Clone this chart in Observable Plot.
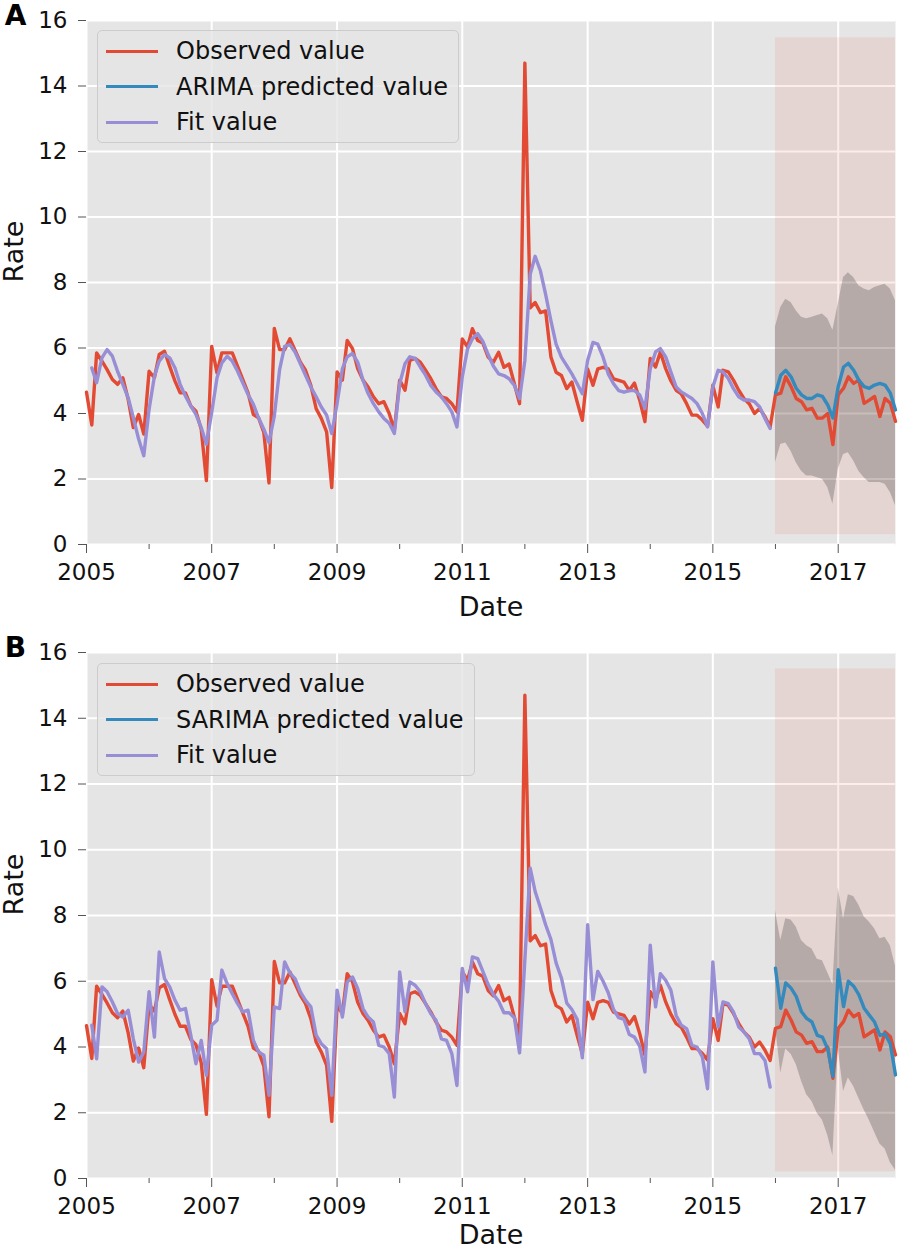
<!DOCTYPE html>
<html><head><meta charset="utf-8">
<script src="https://cdn.jsdelivr.net/npm/d3@7"></script>
<script src="https://cdn.jsdelivr.net/npm/@observablehq/plot@0.6"></script>
<style>
body{margin:0;background:#fff;font-family:"DejaVu Sans",sans-serif;}
.panel{position:relative;width:912px;}
.legend{position:absolute;left:97px;top:30px;height:113px;background:rgba(229,229,229,0.8);border:1px solid #cccccc;border-radius:5px;box-sizing:border-box;}
.row{position:absolute;left:0;height:36px;width:100%;}
.row .ln{position:absolute;left:8px;width:52px;height:3px;top:-1.5px;}
.row .tx{position:absolute;left:78px;top:-15px;font-size:24px;line-height:30px;color:#111;white-space:nowrap;}
</style>
</head><body>
<div id="chart"></div>
<script>
// Monthly series, index 0 = 2005-01 ... 155 = 2017-12
const startYear = 2005;
const observed = [4.65,3.65,5.85,5.6,5.34,5.04,4.89,5.09,4.43,3.57,3.97,3.37,
5.29,5.09,5.8,5.9,5.44,4.99,4.63,4.63,4.23,4.07,3.52,1.95,
6.05,5.24,5.85,5.85,5.85,5.44,5.04,4.63,3.97,3.87,3.42,1.88,
6.6,5.95,5.95,6.28,5.93,5.57,5.32,4.86,4.15,3.85,3.44,1.74,
5.27,5.02,6.23,5.98,5.37,5.02,4.81,4.51,4.3,4.36,4.0,3.49,
5.02,4.71,5.62,5.68,5.57,5.32,5.07,4.76,4.51,4.46,4.3,4.05,
6.28,6.03,6.59,6.23,6.15,5.72,5.56,5.87,5.41,5.51,4.9,4.3,
14.7,7.23,7.39,7.08,7.13,5.72,5.26,5.16,4.76,4.96,4.35,3.79,
5.36,4.86,5.36,5.41,5.36,5.06,5.01,4.96,4.7,4.93,4.4,3.75,
5.68,5.42,5.88,5.37,5.0,4.71,4.6,4.3,3.95,3.95,3.8,3.61,
4.86,4.2,5.32,5.27,5.02,4.71,4.46,4.3,4.0,4.15,3.9,3.59,
4.57,4.62,5.12,4.82,4.46,4.36,4.11,4.16,3.86,3.86,4.0,3.05,
4.57,4.77,5.12,4.92,5.02,4.31,4.41,4.52,3.91,4.46,4.31,3.76];

// fitted values start at index 1 (2005-02) and end at index 131 (2015-12)
const fitStart = 1;
const arimaFit = [5.39,4.94,5.7,5.95,5.75,5.29,4.89,4.48,3.87,3.22,2.71,
4.13,5.14,5.6,5.8,5.7,5.39,4.89,4.53,4.23,3.97,3.57,3.06,
4.03,5.09,5.54,5.75,5.6,5.29,4.94,4.58,4.28,3.87,3.52,3.11,
3.92,5.34,6.05,6.1,5.88,5.52,5.17,4.81,4.51,4.2,3.95,3.39,
4.3,5.37,5.73,5.83,5.57,5.02,4.61,4.3,4.05,3.85,3.7,3.39,
4.91,5.52,5.73,5.68,5.42,5.17,4.86,4.66,4.51,4.3,4.05,3.59,
5.12,5.98,6.28,6.44,6.2,5.8,5.45,5.21,5.16,5.06,4.86,4.45,
5.62,8.25,8.8,8.35,7.64,6.83,6.12,5.72,5.46,5.21,4.91,4.6,
5.62,6.17,6.12,5.72,5.21,4.91,4.7,4.65,4.7,4.7,4.56,4.15,
5.37,5.88,5.98,5.73,5.27,4.81,4.66,4.56,4.46,4.3,4.0,3.59,
4.81,5.32,5.27,5.07,4.76,4.51,4.41,4.41,4.36,4.2,3.85,3.54];

const sarimaFit = [4.66,3.64,5.83,5.68,5.37,5.02,4.91,5.12,4.25,3.54,3.85,
5.68,4.3,6.89,6.08,5.83,5.42,5.12,5.17,4.36,3.49,4.2,3.14,
4.66,4.81,6.34,5.93,5.62,5.32,5.07,5.12,4.2,3.85,3.75,2.53,
5.22,5.17,6.59,6.25,6.08,5.68,5.42,5.22,4.36,4.1,3.95,2.53,
5.73,4.91,5.98,6.13,5.78,5.17,4.91,4.76,4.05,4.0,3.8,2.48,
6.28,5.07,5.98,5.88,5.68,5.32,5.02,4.81,4.25,4.2,3.8,2.83,
6.39,5.68,6.74,6.69,6.3,5.9,5.6,5.39,5.04,5.04,4.89,3.82,
6.66,9.44,8.73,8.23,7.72,7.27,6.56,6.1,5.34,5.14,4.84,3.67,
7.72,5.44,6.3,6.0,5.65,5.14,4.89,4.84,4.38,4.3,4.02,3.24,
7.1,5.22,6.23,6.03,5.73,4.96,4.66,4.56,4.05,4.0,3.7,2.73,
6.59,4.61,5.37,5.32,5.07,4.61,4.46,4.25,3.8,3.8,3.59,2.78];

// forecasts start at index 132 (2016-01)
const predStart = 132;
const arimaPred = [4.62,5.17,5.32,5.12,4.77,4.57,4.46,4.46,4.57,4.52,4.26,3.86,
4.82,5.42,5.53,5.32,5.02,4.82,4.77,4.87,4.92,4.87,4.62,4.11];
const arimaUpper = [6.64,7.24,7.49,7.39,7.14,6.94,6.89,6.94,6.99,7.04,6.89,6.54,
7.34,8.15,8.3,8.15,7.9,7.8,7.75,7.85,7.9,7.95,7.8,7.44];
const arimaLower = [2.5,3.05,3.1,2.85,2.5,2.24,2.09,2.09,2.04,1.99,1.74,1.23,
2.29,2.75,2.8,2.55,2.24,2.04,1.89,1.89,1.89,1.84,1.59,1.18];

const sarimaPred = [6.4,5.18,5.95,5.79,5.54,5.07,4.87,4.76,4.35,4.3,3.94,3.11,
6.35,5.23,6.0,5.85,5.59,5.18,4.97,4.76,4.35,4.4,4.09,3.15];
const sarimaUpper = [8.15,7.24,7.9,7.86,7.65,7.24,7.08,6.98,6.67,6.62,6.26,5.9,
8.85,7.9,8.63,8.58,8.32,7.96,7.8,7.6,7.29,7.34,7.08,6.46];
const sarimaLower = [4.65,3.2,3.94,3.78,3.47,2.96,2.55,2.34,1.98,1.77,1.31,0.69,
3.95,2.65,3.06,2.8,2.44,2.08,1.77,1.41,1.05,0.9,0.48,0.25];

// forecast highlight span (y extent)
const spanA = {lo: 0.3, hi: 15.47};
const spanB = {lo: 0.2, hi: 15.5};

const yTicks = [0,2,4,6,8,10,12,14,16];
const yearTicks = d3.range(2005, 2018);

const colors = {obs: "#E24A33", pred: "#348ABD", fit: "#988ED5"};

const toDate = i => new Date(Date.UTC(startYear, i, 1));
const series = (arr, off) => arr.map((v, i) => ({date: toDate(off + i), v}));
const oddYears = yearTicks.filter(y => y % 2 === 1).map(y => new Date(Date.UTC(y, 0, 1)));
const evenYears = yearTicks.filter(y => y % 2 === 0).map(y => new Date(Date.UTC(y, 0, 1)));

function panel({letter, fit, pred, upper, lower, span, predLabel, height, marginTop, marginBottom, dateDy}) {
  const band = upper.map((u, i) => ({date: toDate(predStart + i), hi: u, lo: lower[i]}));
  const spanRect = [{x1: toDate(predStart), x2: toDate(observed.length - 1), y1: span.lo, y2: span.hi}];
  const svg = Plot.plot({
    width: 912, height, marginTop, marginBottom, marginLeft: 86, marginRight: 17,
    x: {type: "utc", domain: [toDate(0), toDate(observed.length - 1)]},
    y: {domain: [0, 16]},
    style: {fontFamily: "'DejaVu Sans', sans-serif", fontSize: "23px", color: "#111", background: "transparent", overflow: "visible"},
    marks: [
      Plot.frame({fill: "#E5E5E5", stroke: null}),
      Plot.gridY(yTicks, {stroke: "white", strokeOpacity: 1, strokeWidth: 2}),
      Plot.gridX(oddYears, {stroke: "white", strokeOpacity: 1, strokeWidth: 2}),
      Plot.rect(spanRect, {x1: "x1", x2: "x2", y1: "y1", y2: "y2", fill: colors.obs, fillOpacity: 0.1}),
      Plot.areaY(band, {x: "date", y1: "lo", y2: "hi", fill: "black", fillOpacity: 0.2}),
      Plot.lineY(series(observed, 0), {x: "date", y: "v", stroke: colors.obs, strokeWidth: 3.4}),
      Plot.lineY(series(pred, predStart), {x: "date", y: "v", stroke: colors.pred, strokeWidth: 3.4}),
      Plot.lineY(series(fit, fitStart), {x: "date", y: "v", stroke: colors.fit, strokeWidth: 3.4}),
      Plot.axisY(yTicks, {tickSize: 8, tickPadding: 11, stroke: "#555", fill: "#111", label: null, fontSize: 23}),
      Plot.axisX(oddYears, {tickSize: 9, tickPadding: 10, stroke: "#555", fill: "#111", tickFormat: "%Y", label: null, fontSize: 23}),
      Plot.axisX(evenYears, {tickSize: 5, stroke: "#555", tickFormat: () => "", label: null}),
      Plot.text(["Date"], {frameAnchor: "bottom", dy: dateDy, lineAnchor: "middle", fontSize: 27, fill: "#111"}),
      Plot.text(["Rate"], {frameAnchor: "left", dx: -72, rotate: -90, lineAnchor: "middle", fontSize: 27, fill: "#111"}),
      Plot.text([letter], {frameAnchor: "top-left", dx: -71, dy: -4, textAnchor: "middle", lineAnchor: "middle", fontSize: 28, fontWeight: "bold", fill: "#000"})
    ]
  });
  const wrap = document.createElement("div");
  wrap.className = "panel";
  wrap.appendChild(svg);
  const leg = document.createElement("div");
  leg.className = "legend";
  leg.style.width = (predLabel.startsWith("S") ? 378 : 362) + "px";
  const entries = [["Observed value", colors.obs], [predLabel, colors.pred], ["Fit value", colors.fit]];
  entries.forEach(([t, c], i) => {
    const r = document.createElement("div");
    r.className = "row";
    r.style.top = (20 + i * 35.7) + "px";
    r.innerHTML = `<div class="ln" style="background:${c}"></div><div class="tx">${t}</div>`;
    leg.appendChild(r);
  });
  wrap.appendChild(leg);
  return wrap;
}

const chart = document.getElementById("chart");
chart.appendChild(panel({letter: "A", fit: arimaFit, pred: arimaPred, upper: arimaUpper, lower: arimaLower, span: spanA,
  predLabel: "ARIMA predicted value", height: 633, marginTop: 20, marginBottom: 89, dateDy: 63}));
chart.appendChild(panel({letter: "B", fit: sarimaFit, pred: sarimaPred, upper: sarimaUpper, lower: sarimaLower, span: spanB,
  predLabel: "SARIMA predicted value", height: 618, marginTop: 19, marginBottom: 73, dateDy: 57}));
</script>
</body></html>
